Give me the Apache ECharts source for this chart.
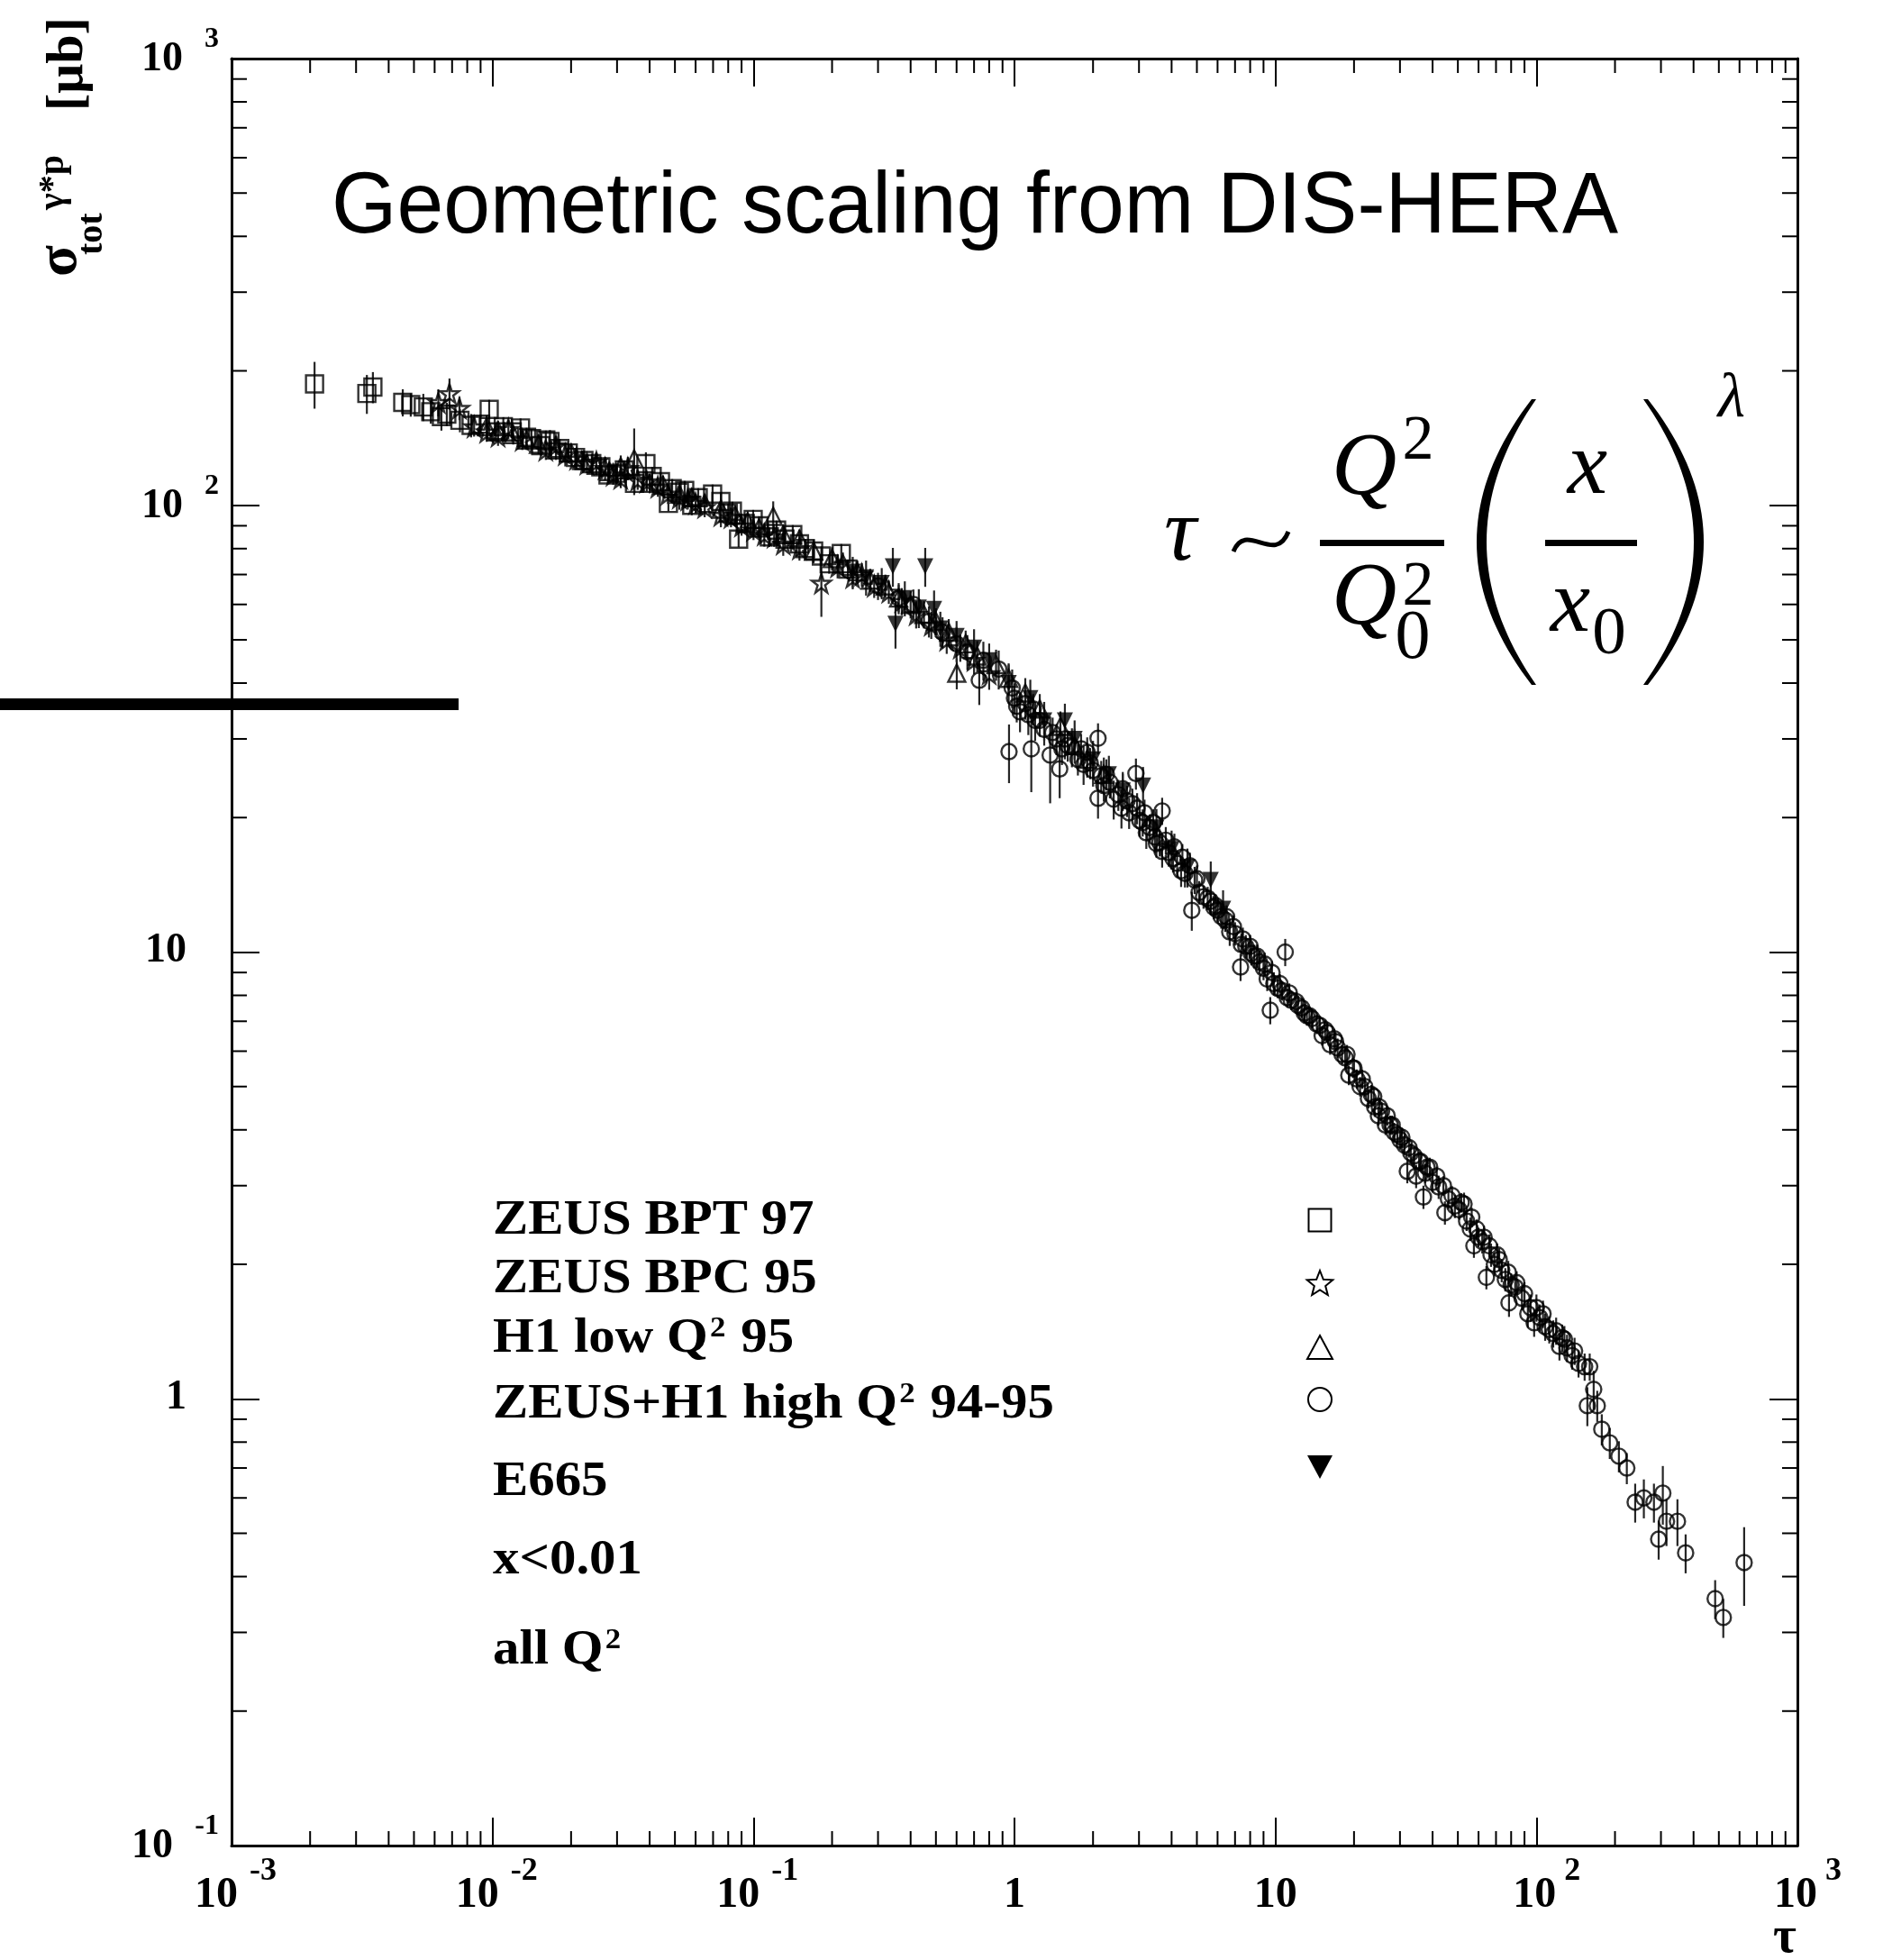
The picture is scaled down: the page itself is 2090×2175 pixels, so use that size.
<!DOCTYPE html>
<html>
<head>
<meta charset="utf-8">
<script src="https://cdn.jsdelivr.net/npm/echarts@6.0.0/dist/echarts.min.js"></script>
<style>
html,body{margin:0;padding:0;background:#fff;}
#chart{width:2090px;height:2175px;}
</style>
</head>
<body>
<div id="chart"></div>
<script>
// ---------- axis ticks ----------
const tauDecades = [0.001, 0.01, 0.1, 1, 10, 100, 1000];
const sigmaDecades = [0.1, 1, 10, 100, 1000];
const minorSteps = [2, 3, 4, 5, 6, 7, 8, 9];

// ---------- data: [tau, sigma_tot (µb), relative error] ----------
const zeusBPT97 = [
[0.00208,187,0.12],[0.00330,178,0.10],[0.00348,184,0.08],[0.00453,170,0.07],[0.00486,168,0.06],
[0.00543,166,0.07],[0.0058,162,0.06],[0.00637,158,0.07],[0.00668,160,0.06],[0.0075,155,0.06],
[0.00828,151,0.06],[0.0090,152,0.05],[0.00971,164,0.05],[0.0103,146,0.05],[0.0110,150,0.05],
[0.0119,146,0.05],[0.0128,149,0.05],[0.0135,142,0.05],[0.0141,141,0.05],[0.0153,136,0.05],
[0.0160,140,0.05],[0.0166,139,0.06],[0.0181,134,0.05],[0.0195,131,0.05],[0.0208,128,0.05],
[0.0224,126,0.05],[0.0240,124,0.05],[0.026,122,0.05],[0.0277,117,0.04],[0.030,118,0.05],
[0.0320,120,0.05],[0.035,112,0.05],[0.0387,124,0.06],[0.0409,116,0.05],[0.044,113,0.05],
[0.0472,101,0.04],[0.0488,109,0.05],[0.052,107,0.05],[0.0545,108,0.05],[0.058,100,0.05],
[0.0614,104,0.05],[0.0697,106,0.05],[0.075,102,0.05],[0.080,96,0.05],[0.0830,97,0.05],
[0.0877,84,0.04],[0.093,91,0.05],[0.0997,93,0.05],[0.105,90,0.05],[0.115,85,0.05],
[0.1226,88,0.05],[0.132,84,0.05],[0.1414,86,0.05],[0.150,82,0.05],[0.158,80,0.05],
[0.170,79,0.05],[0.182,77,0.05],[0.195,74,0.05],[0.217,78,0.05],[0.230,72,0.05]
];
const zeusBPC95 = [
[0.0062,170,0.07],[0.00684,178,0.08],[0.00747,165,0.06],[0.0085,150,0.05],[0.0095,146,0.05],
[0.0105,143,0.05],[0.0115,148,0.05],[0.0130,140,0.05],[0.0160,133,0.05],[0.0175,136,0.05],
[0.0190,130,0.06],[0.021,127,0.05],[0.0230,124,0.05],[0.025,125,0.05],[0.0270,121,0.06],
[0.029,117,0.05],[0.0310,115,0.05],[0.033,121,0.06],[0.0360,114,0.05],[0.039,113,0.05],
[0.0430,110,0.05],[0.047,106,0.05],[0.0520,104,0.06],[0.056,103,0.05],[0.0600,101,0.05],
[0.065,99,0.05],[0.0750,95,0.06],[0.082,94,0.05],[0.0900,90,0.05],[0.100,88,0.05],
[0.110,86,0.06],[0.120,85,0.05],[0.130,82,0.06],[0.150,80,0.06],[0.182,67,0.16],
[0.210,73,0.06],[0.240,69,0.06],[0.260,70,0.06],[0.290,66,0.06],[0.330,64,0.06],
[0.370,61,0.07],[0.420,57,0.07],[0.480,54,0.07],[0.550,50,0.07],[0.620,48,0.07],
[0.700,45,0.07],[0.800,42,0.08]
];
const h1LowQ2 = [
[0.0095,150,0.06],[0.0105,147,0.05],[0.0120,144,0.05],[0.0135,140,0.05],[0.0150,137,0.05],
[0.0175,133,0.05],[0.0200,131,0.05],[0.022,126,0.05],[0.0250,123,0.05],[0.028,119,0.05],
[0.031,122,0.06],[0.0349,127,0.17],[0.040,112,0.05],[0.0450,111,0.05],[0.052,106,0.05],
[0.0580,104,0.05],[0.065,101,0.05],[0.0750,98,0.05],[0.085,95,0.05],[0.0950,92,0.05],
[0.105,89,0.05],[0.119,94.5,0.08],[0.130,86,0.05],[0.150,84,0.05],[0.170,79,0.06],
[0.200,76,0.06],[0.220,74,0.06],[0.250,71,0.06],[0.280,68,0.06],[0.320,66,0.06],
[0.360,62,0.07],[0.400,60,0.07],[0.450,57,0.07],[0.500,55,0.07],[0.560,52,0.07],
[0.601,42.1,0.08],[0.650,49,0.07],[0.720,46,0.08],[0.850,44,0.08],[0.950,41,0.08],
[1.10,38,0.08],[1.25,35,0.08],[1.50,32,0.08],[1.70,29,0.09],[1.90,27,0.09],[2.20,25,0.09]
];
const zeusH1HighQ2 = [
[0.30,66,0.07],[0.36,62,0.08],[0.41,60,0.08],[0.47,55,0.08],[0.53,52,0.08],[0.60,49,0.09],
[0.66,47,0.09],[0.733,40.6,0.12],[0.76,45,0.10],[0.87,43,0.10],[0.953,28.1,0.15],[0.98,39,0.10],
[1.0,37,0.08],[1.02,35.5,0.08],[1.05,34.5,0.10],[1.1,36,0.08],[1.13,34,0.10],[1.16,28.5,0.20],
[1.18,35,0.08],[1.20,33,0.10],[1.25,33,0.08],[1.3,31.5,0.08],[1.37,27.6,0.22],[1.4,31,0.08],
[1.45,30,0.08],[1.49,25.7,0.14],[1.52,28.5,0.08],[1.56,30,0.10],[1.6,29,0.08],[1.66,28.8,0.10],
[1.75,27,0.08],[1.8,28.5,0.08],[1.84,26.3,0.10],[1.90,28,0.08],[1.95,26.5,0.08],[2.0,25.5,0.08],
[2.09,30.1,0.08],[2.09,22.1,0.10],[2.15,24.8,0.08],[2.20,23.6,0.08],[2.25,25,0.08],[2.32,24,0.08],
[2.40,22,0.10],[2.5,22.5,0.08],[2.57,21,0.10],[2.6,23.2,0.08],[2.7,21.8,0.08],[2.75,20.5,0.08],
[2.83,21.5,0.08],[2.92,25.1,0.08],[2.95,21,0.08],[3.02,19.7,0.08],[3.1,19.5,0.07],[3.15,20.5,0.07],
[3.20,18.5,0.08],[3.3,19.0,0.07],[3.4,19.5,0.07],[3.45,18.1,0.08],[3.5,17.5,0.07],[3.6,17.6,0.07],
[3.68,20.7,0.07],[3.68,16.8,0.08],[3.8,17.8,0.07],[3.9,16.7,0.07],[4.05,16.2,0.07],[4.1,17.2,0.07],
[4.2,15.8,0.07],[4.35,15.2,0.08],[4.4,16.3,0.07],[4.5,15.0,0.07],[4.7,15.6,0.07],[4.78,12.4,0.10],
[4.90,14.5,0.07],[5.0,14.6,0.07],[5.10,13.6,0.06],[5.3,13.3,0.06],[5.5,13.2,0.06],[5.65,13.0,0.07],
[5.8,12.6,0.06],[5.9,12.7,0.06],[6.00,12.4,0.06],[6.2,12.0,0.06],[6.42,11.8,0.06],[6.5,12.0,0.06],
[6.68,11.1,0.07],[6.9,11.4,0.06],[7.0,11.0,0.06],[7.35,9.26,0.07],[7.40,10.4,0.06],[7.5,10.7,0.06],
[7.7,10.3,0.06],[8.0,10.3,0.06],[8.08,9.93,0.06],[8.3,9.8,0.06],[8.5,9.8,0.06],[8.68,9.5,0.06],
[9.0,9.2,0.06],[9.1,9.4,0.06],[9.3,8.7,0.06],[9.55,7.41,0.07],[9.7,9.0,0.06],[9.86,8.5,0.06],
[10.2,8.3,0.05],[10.4,8.5,0.05],[10.6,8.2,0.05],[10.9,10.0,0.07],[11.1,7.9,0.05],[11.3,8.1,0.05],
[11.5,7.8,0.05],[12.0,7.75,0.05],[12.2,7.6,0.05],[12.6,7.5,0.05],[12.9,7.3,0.05],[13.2,7.2,0.05],
[13.5,7.2,0.05],[13.8,7.1,0.05],[14.4,6.9,0.05],[14.8,6.85,0.05],[15.1,6.5,0.05],[15.5,6.7,0.05],
[15.8,6.6,0.05],[16.2,6.2,0.05],[16.8,6.4,0.05],[17.0,6.3,0.05],[17.3,6.1,0.05],[18.0,5.9,0.05],
[18.5,5.8,0.05],[18.8,5.9,0.05],[19.1,5.3,0.05],[19.8,5.5,0.05],[20.0,5.5,0.05],[20.5,5.2,0.05],
[21.1,5.0,0.05],[21.5,5.2,0.05],[22.0,5.0,0.05],[22.7,4.7,0.05],[23.3,4.8,0.05],[23.8,4.75,0.05],
[24.0,4.5,0.05],[24.8,4.3,0.05],[25.0,4.5,0.05],[25.5,4.4,0.05],[26.4,4.1,0.05],[26.8,4.3,0.05],
[27.5,4.1,0.05],[28.0,4.1,0.05],[28.5,3.95,0.05],[29.3,3.9,0.05],[30.0,3.8,0.05],[30.5,3.85,0.05],
[31.2,3.7,0.05],[32.0,3.23,0.06],[32.5,3.65,0.05],[33.0,3.55,0.05],[34.0,3.5,0.05],[34.6,3.15,0.06],
[35.5,3.4,0.05],[36.0,3.4,0.05],[36.9,2.83,0.06],[37.5,3.2,0.05],[38.1,3.3,0.05],[39.0,3.3,0.05],
[40.0,3.05,0.05],[41.5,3.15,0.05],[42.2,2.98,0.06],[44.0,3.0,0.05],[44.6,2.61,0.06],[46.0,2.8,0.05],
[47.5,2.85,0.05],[48.7,2.7,0.06],[50.5,2.65,0.05],[51.5,2.75,0.05],[52.8,2.73,0.06],[54.0,2.5,0.05],
[55.8,2.4,0.06],[56.5,2.55,0.05],[57.6,2.2,0.06],[59.0,2.4,0.05],[60.0,2.3,0.05],[62.0,2.25,0.06],
[63.0,2.3,0.06],[64.3,1.87,0.06],[66.0,2.2,0.06],[67.0,2.1,0.06],[69.0,2.0,0.06],[70.8,2.1,0.06],
[72.0,2.05,0.06],[73.6,1.94,0.06],[76.0,1.85,0.06],[78.0,1.92,0.06],[78.5,1.64,0.07],[80.0,1.8,0.06],
[82.9,1.78,0.06],[84.0,1.82,0.06],[88.0,1.68,0.06],[90.0,1.72,0.06],[92.7,1.55,0.07],[95.0,1.6,0.07],
[98,1.48,0.07],[100,1.6,0.07],[103,1.52,0.07],[106,1.55,0.07],[108,1.45,0.07],[112,1.43,0.07],
[116,1.4,0.07],[119,1.42,0.07],[122.5,1.31,0.07],[125.5,1.37,0.07],[128,1.36,0.07],[131,1.3,0.07],
[137,1.25,0.07],[140,1.28,0.07],[145,1.2,0.07],[153,1.18,0.07],[156.7,0.965,0.10],[160,1.18,0.07],
[165.7,1.05,0.10],[171,0.965,0.08],[178,0.855,0.08],[191,0.797,0.08],[207,0.744,0.08],[222,0.700,0.08],
[239,0.587,0.10],[258,0.600,0.10],[282,0.587,0.10],[294,0.485,0.10],[305,0.615,0.15],[315,0.532,0.12],
[347,0.532,0.12],[373,0.452,0.10],[484,0.357,0.10],[520,0.324,0.10],[625,0.430,0.20]
];
const e665 = [
[0.240,71,0.08],[0.270,69,0.09],[0.310,67,0.08],[0.342,73,0.10],[0.350,54.3,0.12],[0.455,73,0.10],
[0.380,62,0.09],[0.430,59,0.10],[0.492,58.6,0.10],[0.520,53,0.09],[0.600,51,0.08],[0.700,48,0.10],
[0.800,45,0.09],[0.950,40,0.10],[1.15,37,0.10],[1.30,33,0.10],[1.56,33,0.09],[1.70,30,0.10],
[2.00,27,0.10],[2.30,25,0.10],[2.60,23,0.10],[3.11,23.6,0.10],[3.50,19,0.10],[4.00,17,0.10],
[4.60,15.5,0.10],[5.65,14.5,0.10],[6.30,12.5,0.10]
];

// ---------- texts ----------
const titleText = 'Geometric scaling from DIS-HERA';
const legendLabels = ['ZEUS BPT 97', 'ZEUS BPC 95', 'H1 low Q^2 95', 'ZEUS+H1 high Q^2 94-95', 'E665'];
const cutLabels = ['x<0.01', 'all Q^2'];
const xAxisTitle = 'τ';

// ---------- helpers ----------
const SERIF = '"Liberation Serif","Times New Roman",serif';
const SANS = '"Liberation Sans",Arial,Helvetica,sans-serif';
const STAR = 'path://M50,0 L61.8,35.1 L98.9,35.1 L69.1,56.7 L80.3,91.9 L50,70.2 L19.7,91.9 L30.9,56.7 L1.1,35.1 L38.2,35.1 Z';

function expOf(v) { return Math.round(Math.log10(v)); }
function toRich(s) { return s.split('^2').map(p => '{a|' + p + '}').join('{s|2}'); }
function pts(arr) { return arr.map(d => [d[0], d[1]]); }
function errs(arr) { return arr.map(d => [d[0], d[1] * (1 - d[2]), d[1] * (1 + d[2])]); }

const minorData = [];
tauDecades.slice(0, -1).forEach(d => minorSteps.forEach(m => minorData.push([m * d, 1, 0])));
sigmaDecades.slice(0, -1).forEach(d => minorSteps.forEach(m => minorData.push([1, m * d, 1])));

const labelData = [];
tauDecades.forEach(v => labelData.push([v, 1, 0]));
sigmaDecades.forEach(v => labelData.push([1, v, 1]));

const allErr = [].concat(errs(zeusBPT97), errs(zeusBPC95), errs(h1LowQ2), errs(zeusH1HighQ2), errs(e665));

function renderErr(params, api) {
  const x = api.value(0);
  const lo = api.coord([x, api.value(1)]);
  const hi = api.coord([x, api.value(2)]);
  return { type: 'line', shape: { x1: lo[0], y1: lo[1], x2: hi[0], y2: hi[1] },
           style: { stroke: '#262626', lineWidth: 2.2 } };
}
function renderMinor(params, api) {
  const kind = api.value(2);
  const st = { stroke: '#000', lineWidth: 2 };
  if (kind === 0) {
    const v = api.value(0);
    const b = api.coord([v, 0.1]), t = api.coord([v, 1000]);
    return { type: 'group', children: [
      { type: 'line', shape: { x1: b[0], y1: b[1], x2: b[0], y2: b[1] - 16 }, style: st },
      { type: 'line', shape: { x1: t[0], y1: t[1], x2: t[0], y2: t[1] + 16 }, style: st } ] };
  }
  const v = api.value(1);
  const l = api.coord([0.001, v]), r = api.coord([1000, v]);
  return { type: 'group', children: [
    { type: 'line', shape: { x1: l[0], y1: l[1], x2: l[0] + 17, y2: l[1] }, style: st },
    { type: 'line', shape: { x1: r[0], y1: r[1], x2: r[0] - 17, y2: r[1] }, style: st } ] };
}
function lbl(x, y, text, size, align) {
  return { type: 'text', x: x, y: y,
    style: { text: text, fill: '#000', fontSize: size, fontFamily: SERIF, fontWeight: 'bold',
             align: align, verticalAlign: 'middle', textAlign: align, textVerticalAlign: 'middle' } };
}
// tick labels "10^n" drawn at the positions given by the axes
function renderTickLabel(params, api) {
  const kind = api.value(2);
  if (kind === 0) {
    const v = api.value(0), e = expOf(v);
    const p = api.coord([v, 0.1]);
    const yb = p[1] + 56, ye = p[1] + 29;
    if (e === 0 || e === 1) return lbl(p[0], yb, e === 0 ? '1' : '10', 48, 'center');
    const neg = e < 0;
    const cx = p[0] - (neg ? 17 : 2);
    return { type: 'group', children: [
      lbl(cx, yb, '10', 48, 'center'),
      lbl(cx + 24 + (neg ? 13 : 9), ye, String(e), 36, 'left') ] };
  }
  const v = api.value(1), e = expOf(v);
  const p = api.coord([0.001, v]);
  const xr = p[0] - 14;
  if (e === 0 || e === 1) return lbl(xr - 36, p[1] - 1, e === 0 ? '1' : '10', 46, 'right');
  const s = String(e);
  return { type: 'group', children: [
    lbl(xr - 40 - 11 * (s.length - 1), p[1] + 1, '10', 46, 'right'),
    lbl(xr, p[1] - 21, s, 32, 'right') ] };
}

// ---------- decorations (graphic) ----------
function quadPts(p0, c, p1, n) {
  const out = [];
  for (let i = 0; i <= n; i++) {
    const t = i / n, a = (1 - t) * (1 - t), b = 2 * (1 - t) * t, d = t * t;
    out.push([a * p0[0] + b * c[0] + d * p1[0], a * p0[1] + b * c[1] + d * p1[1]]);
  }
  return out;
}
function paren(xEndOut, xCtrlOut, xEndIn, xCtrlIn, yTop, yBot) {
  const ym = (yTop + yBot) / 2;
  const outer = quadPts([xEndOut, yTop], [xCtrlOut, ym], [xEndOut, yBot], 40);
  const inner = quadPts([xEndIn, yBot], [xCtrlIn, ym], [xEndIn, yTop], 40);
  return { type: 'polygon', shape: { points: outer.concat(inner) }, style: { fill: '#000' }, z: 20 };
}
function starPts(cx, cy, ro, ri) {
  const p = [];
  for (let i = 0; i < 10; i++) {
    const r = i % 2 === 0 ? ro : ri;
    const a = -Math.PI / 2 + i * Math.PI / 5;
    p.push([cx + r * Math.cos(a), cy + r * Math.sin(a)]);
  }
  return p;
}
function txt(x, y, text, size, opts) {
  opts = opts || {};
  return {
    type: 'text', x: x, y: y, rotation: opts.rotation || 0, scaleX: opts.scaleX || 1, z: 20,
    style: {
      text: text, fill: '#000', fontSize: size, fontFamily: opts.family || SERIF,
      fontWeight: opts.weight || 'normal', fontStyle: opts.style || 'normal',
      align: opts.align || 'center', verticalAlign: 'middle', rich: opts.rich
    }
  };
}

const legendRich = {
  a: { fontSize: 54, lineHeight: 54, fontWeight: 'bold', fontFamily: SERIF, verticalAlign: 'bottom', color: '#000' },
  s: { fontSize: 32, lineHeight: 32, fontWeight: 'bold', fontFamily: SERIF, verticalAlign: 'top', color: '#000', padding: [0, 2, 12, 2] }
};
const legendY = [1355, 1420, 1486, 1559, 1645];
const cutY = [1732, 1832];

const graphics = [
  { type: 'rect', shape: { x: 0, y: 775, width: 509, height: 13 }, style: { fill: '#000' }, z: 20 },
  txt(368, 232, titleText, 96, { family: SANS, align: 'left', scaleX: 0.97 }),
  // y-axis title (rotated)
  txt(67, 307, 'σ', 64, { weight: 'bold', align: 'left', rotation: Math.PI / 2 }),
  txt(103, 283, 'tot', 40, { weight: 'bold', align: 'left', rotation: Math.PI / 2 }),
  txt(60, 233, 'γ*p', 40, { weight: 'bold', align: 'left', rotation: Math.PI / 2 }),
  txt(76, 123, '[μb]', 58, { weight: 'bold', align: 'left', rotation: Math.PI / 2 }),
  // x-axis title
  txt(1981, 2152, xAxisTitle, 56, { weight: 'bold' }),
  // formula
  txt(1310, 595, 'τ', 100, { style: 'italic' }),
  { type: 'bezierCurve', shape: { x1: 1369, y1: 612, cpx1: 1383, cpy1: 577, cpx2: 1415, cpy2: 628, x2: 1430, y2: 590 },
    style: { stroke: '#000', lineWidth: 5, fill: null }, z: 20 },
  { type: 'rect', shape: { x: 1465, y: 599, width: 138, height: 7 }, style: { fill: '#000' }, z: 20 },
  txt(1514, 522, 'Q', 100, { style: 'italic' }),
  txt(1574, 491, '2', 70),
  txt(1514, 666, 'Q', 100, { style: 'italic' }),
  txt(1574, 653, '2', 70),
  txt(1568, 710, '0', 78),
  paren(1700, 1578, 1705, 1595, 443, 760),
  { type: 'rect', shape: { x: 1715, y: 599, width: 102, height: 7 }, style: { fill: '#000' }, z: 20 },
  txt(1762, 521, 'x', 100, { style: 'italic' }),
  txt(1743, 674, 'x', 100, { style: 'italic' }),
  txt(1786, 705, '0', 75),
  paren(1829, 1953, 1824, 1936, 443, 760),
  txt(1922, 444, 'λ', 70, { style: 'italic' }),
  // legend symbols
  { type: 'rect', shape: { x: 1452.5, y: 1341.5, width: 25, height: 25 }, style: { fill: null, stroke: '#000', lineWidth: 2 }, z: 20 },
  { type: 'polygon', shape: { points: starPts(1465, 1425, 15, 6.5) }, style: { fill: null, stroke: '#000', lineWidth: 2 }, z: 20 },
  { type: 'polygon', shape: { points: [[1465, 1482], [1479, 1508], [1451, 1508]] }, style: { fill: null, stroke: '#000', lineWidth: 2 }, z: 20 },
  { type: 'circle', shape: { cx: 1465, cy: 1553, r: 13 }, style: { fill: null, stroke: '#000', lineWidth: 2 }, z: 20 },
  { type: 'polygon', shape: { points: [[1451, 1615], [1479, 1615], [1465, 1641]] }, style: { fill: '#000' }, z: 20 }
];
legendLabels.forEach((l, i) => graphics.push(txt(547, legendY[i], toRich(l), 54, { align: 'left', weight: 'bold', scaleX: 1.09, rich: legendRich })));
cutLabels.forEach((l, i) => graphics.push(txt(547, cutY[i], toRich(l), 54, { align: 'left', weight: 'bold', scaleX: 1.09, rich: legendRich })));

// ---------- axes ----------
const axisLineStyle = { color: '#000', width: 3 };
function logAxis(pos, min, max) {
  return { type: 'log', logBase: 10, min: min, max: max, position: pos,
    axisLine: { show: true, lineStyle: axisLineStyle },
    axisTick: { show: true, inside: true, length: 31, lineStyle: { color: '#000', width: 2 } },
    splitLine: { show: false }, axisLabel: { show: false } };
}
const hollow = { color: 'rgba(0,0,0,0)', borderColor: '#000', borderWidth: 2.4 };

const option = {
  animation: false,
  backgroundColor: '#fff',
  grid: { left: 257, top: 65, right: 95, bottom: 127, containLabel: false, outerBoundsMode: 'none' },
  xAxis: [ logAxis('bottom', 0.001, 1000), logAxis('top', 0.001, 1000) ],
  yAxis: [ logAxis('left', 0.1, 1000), logAxis('right', 0.1, 1000) ],
  series: [
    { type: 'custom', name: 'minorTicks', renderItem: renderMinor, data: minorData, encode: { x: 0, y: 1 },
      clip: false, silent: true, z: 5 },
    { type: 'custom', name: 'tickLabels', renderItem: renderTickLabel, data: labelData, encode: { x: 0, y: 1 },
      clip: false, silent: true, z: 5 },
    { type: 'custom', name: 'errors', renderItem: renderErr, data: allErr, encode: { x: 0, y: [1, 2] },
      clip: false, silent: true, z: 1 },
    { type: 'scatter', name: 'ZEUS BPT 97', data: pts(zeusBPT97), symbol: 'rect', symbolSize: 19, silent: true, z: 2,
      itemStyle: hollow },
    { type: 'scatter', name: 'ZEUS BPC 95', data: pts(zeusBPC95), symbol: STAR, symbolSize: 21, silent: true, z: 2,
      itemStyle: hollow },
    { type: 'scatter', name: 'H1 low Q2 95', data: pts(h1LowQ2), symbol: 'triangle', symbolSize: 19, silent: true, z: 2,
      itemStyle: hollow },
    { type: 'scatter', name: 'ZEUS+H1 high Q2 94-95', data: pts(zeusH1HighQ2), symbol: 'circle', symbolSize: 17, silent: true, z: 2,
      itemStyle: hollow },
    { type: 'scatter', name: 'E665', data: pts(e665), symbol: 'triangle', symbolRotate: 180, symbolSize: 18, silent: true, z: 3,
      itemStyle: { color: '#000' } }
  ],
  graphic: { elements: graphics }
};

const chart = echarts.init(document.getElementById('chart'), null, { renderer: 'canvas' });
chart.setOption(option);
</script>
</body>
</html>
